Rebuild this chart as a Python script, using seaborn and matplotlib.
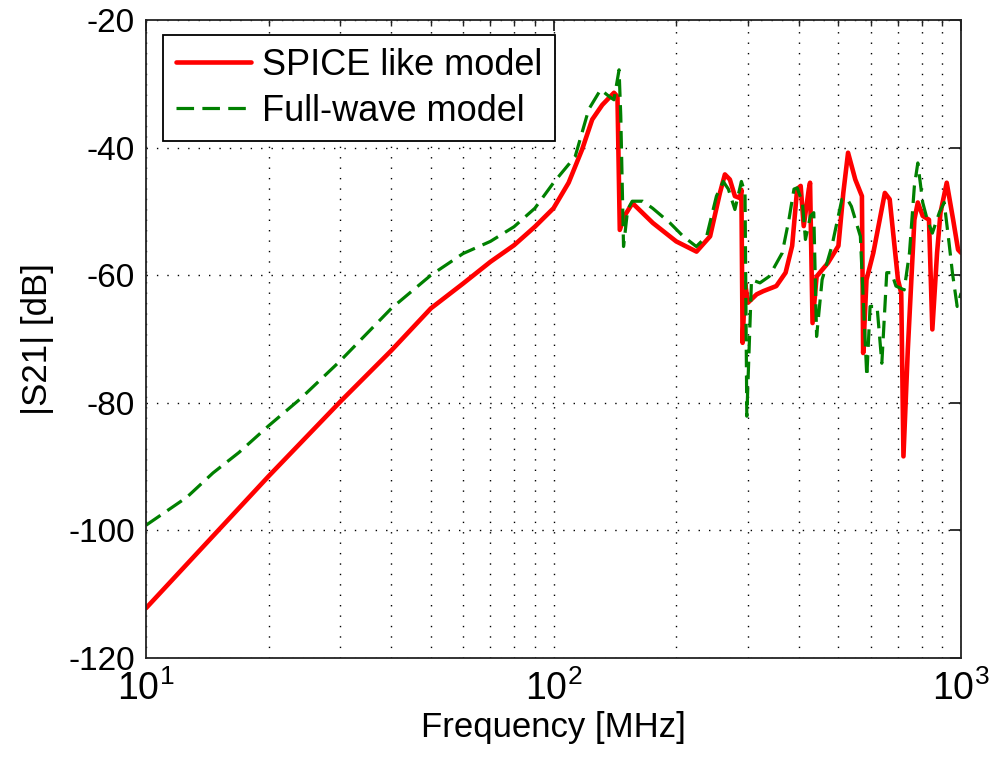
import numpy as np
import pandas as pd
import matplotlib
matplotlib.use("Agg")
import matplotlib.pyplot as plt
import seaborn as sns
from matplotlib.ticker import FixedLocator, FixedFormatter, LogLocator, NullFormatter

# ---- data ----
spice_freq = [10, 20, 30, 40, 50, 60, 70, 80, 90, 100, 108.9, 117.5, 124.4, 131.7, 140.7, 143.5,
              145.4, 149, 156.2, 175.2, 200, 224.3, 242.2, 256, 263.3, 270.8, 278.6, 286.5, 289,
              291, 295, 300, 315, 327, 352, 371, 385, 396, 404, 411, 423, 426, 432, 442, 471,
              500, 514, 528, 550, 571, 575, 586, 609, 650, 668, 700, 713, 722, 740, 768, 783,
              805, 834, 850, 873, 890, 922, 956, 983, 1000]
spice_db = [-112.2, -91.5, -79.8, -71.8, -65.2, -61.3, -57.9, -55.3, -52.4, -49.5, -45.5, -40.3,
            -35.6, -33.3, -31.4, -32.0, -52.9, -50.8, -48.7, -51.8, -54.7, -56.3, -53.9, -47.1,
            -44.2, -45.0, -47.6, -47.9, -46.6, -70.6, -61.2, -64.3, -63.0, -62.5, -61.7, -59.6,
            -55.4, -46.5, -46.0, -52.3, -46.5, -45.5, -67.5, -60.2, -58.1, -55.4, -47.1, -40.8,
            -45.0, -47.6, -72.2, -60.7, -56.5, -47.1, -48.1, -60.7, -62.8, -88.4, -71.7, -51.3,
            -48.6, -50.7, -51.3, -68.5, -56.5, -50.2, -45.5, -51.3, -56.0, -56.5]

fw_freq = [10, 12.6, 14.6, 16.9, 20, 23.9, 30, 40, 50, 60, 70, 80, 90, 100, 113, 122, 130.5, 137,
           140.7, 144.8, 146.2, 148.5, 152, 156, 165.5, 175, 193, 208, 224, 237.5, 251, 260.8,
           268.5, 278.6, 289, 295, 298, 306, 321, 338, 364, 378, 389, 396, 408, 415, 427, 435,
           442, 456, 482, 510, 524, 538, 566, 587, 598, 622, 639, 657, 675, 692, 725, 747, 768,
           783, 805, 826, 850, 884, 909, 934, 952, 978, 1000]
fw_db = [-99.2, -94.8, -91.0, -87.8, -83.6, -79.4, -73.4, -65.2, -60.0, -56.6, -54.7, -52.4,
         -49.5, -45.5, -41.4, -34.0, -30.9, -32.0, -32.5, -27.8, -35.0, -55.5, -49.7, -48.4,
         -48.4, -49.5, -51.8, -53.9, -55.5, -53.9, -47.6, -45.3, -46.5, -49.7, -45.3, -47.1,
         -82.1, -60.7, -61.2, -60.2, -56.5, -51.3, -46.5, -46.3, -48.6, -54.4, -50.7, -50.2,
         -69.6, -60.7, -55.4, -48.1, -47.9, -49.2, -53.9, -75.9, -64.9, -64.9, -73.8, -59.6,
         -59.6, -61.7, -62.3, -56.5, -46.0, -42.4, -48.6, -51.3, -53.4, -50.2, -48.6, -54.9,
         -59.6, -64.9, -62.8]

series_labels = ["SPICE like model", "Full-wave model"]
y_ticks = [-120, -100, -80, -60, -40, -20]
x_ticks = [10, 100, 1000]
x_tick_labels = [r"$10^{1}$", r"$10^{2}$", r"$10^{3}$"]

df = pd.concat([
    pd.DataFrame({"f": spice_freq, "db": spice_db, "model": series_labels[0]}),
    pd.DataFrame({"f": fw_freq, "db": fw_db, "model": series_labels[1]}),
], ignore_index=True)

# ---- style ----
sns.set_style("white")
plt.rcParams["font.family"] = ["Liberation Sans", "DejaVu Sans"]
plt.rcParams["mathtext.fontset"] = "custom"
plt.rcParams["mathtext.rm"] = "Liberation Sans"
plt.rcParams["mathtext.it"] = "Liberation Sans"
plt.rcParams["text.color"] = "black"
plt.rcParams["axes.labelcolor"] = "black"

fig = plt.figure(figsize=(9.97, 7.71), dpi=100)
ax = fig.add_axes([0.1464, 0.1466, 0.8176, 0.8274])

sns.lineplot(data=df[df.model == series_labels[0]], x="f", y="db", color="#ff0000",
             linewidth=3.3, ax=ax, label=series_labels[0], sort=False, estimator=None)
sns.lineplot(data=df[df.model == series_labels[1]], x="f", y="db", color="#008000",
             linewidth=2.3, ax=ax, label=series_labels[1], sort=False, estimator=None)
ax.lines[1].set_linestyle((0, (5.5, 2.6)))

ax.set_xscale("log")
ax.set_xlim(10, 1000)
ax.set_ylim(-120, -20)
ax.xaxis.set_major_locator(FixedLocator(x_ticks))
ax.xaxis.set_major_formatter(FixedFormatter(x_tick_labels))
ax.xaxis.set_minor_locator(LogLocator(base=10, subs=np.arange(2, 10)))
ax.xaxis.set_minor_formatter(NullFormatter())
ax.set_yticks(y_ticks)
ax.set_yticklabels([str(v) for v in y_ticks])

ax.grid(True, which="major", color="black", linestyle=(0, (1, 6.5)), linewidth=1.0)
ax.grid(True, which="minor", axis="x", color="black", linestyle=(0, (1, 6.5)), linewidth=1.0)

for s in ax.spines.values():
    s.set_visible(True)
    s.set_color("#222222")
    s.set_linewidth(1.3)
ax.tick_params(axis="both", which="both", direction="in", top=True, right=True,
               labelsize=24, colors="#222222", labelcolor="black")
ax.tick_params(which="major", length=8, width=1.3)
ax.tick_params(which="minor", length=4, width=1.0)
ax.tick_params(axis="x", which="major", pad=9, labelsize=27)
ax.tick_params(axis="y", which="major", pad=8)

ax.set_xlabel("Frequency [MHz]", fontsize=25, labelpad=2)
ax.set_ylabel("|S21| [dB]", fontsize=25, labelpad=10)

leg = ax.legend(loc="upper left", bbox_to_anchor=(0.0209, 0.9765), fontsize=26, frameon=True,
                fancybox=False, edgecolor="black", framealpha=1, handlelength=2.1,
                handletextpad=0.3, borderpad=0.35, labelspacing=0.3, borderaxespad=0.0)
leg.get_frame().set_linewidth(1.3)
for t in leg.get_texts():
    t.set_color("black")

fig.savefig("out.png", dpi=100)
